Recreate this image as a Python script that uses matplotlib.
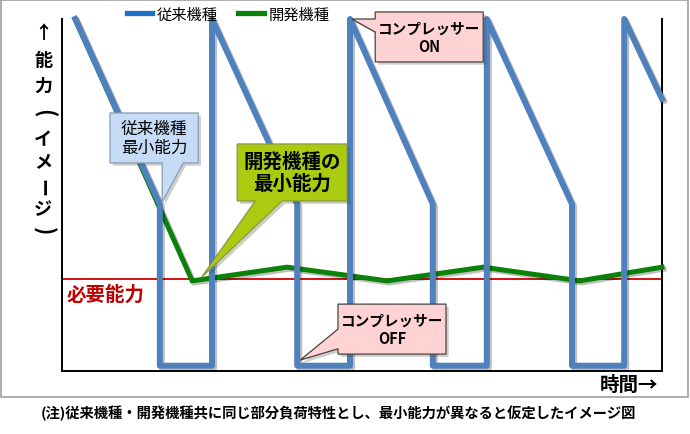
import matplotlib
matplotlib.use("Agg")
import matplotlib.pyplot as plt
import matplotlib.patheffects as pe
from matplotlib.patches import Polygon, Rectangle
from matplotlib.lines import Line2D

plt.rcParams['font.family'] = ['Noto Sans CJK JP', 'DejaVu Sans']

# ---- data (image units: time 0-100, capacity 0-100) ----
blue_x = [2.2, 16.3, 16.3, 25.0, 25.0, 39.2, 39.2, 48.0, 48.0, 61.8, 61.8,
          70.8, 70.8, 85.0, 85.0, 93.7, 93.7, 100]
blue_y = [100, 47.4, 1.5, 1.5, 100, 47.4, 1.5, 1.5, 100, 47.4, 1.5,
          1.5, 100, 47.4, 1.5, 1.5, 100, 77.3]
green_x = [2.2, 21.7, 37.5, 54.2, 70.2, 86.3, 100]
green_y = [100, 25.6, 29.5, 25.6, 29.5, 25.6, 29.5]
need_y = 26.1

series_names = ['従来機種', '開発機種']
ylabel_chars = ['↑', '能', '力', '(', 'イ', 'メ', 'ー', 'ジ', ')']
caption = '(注)従来機種・開発機種共に同じ部分負荷特性とし、最小能力が異なると仮定したイメージ図'

fig = plt.figure(figsize=(6.9, 4.35), dpi=100)
ax = fig.add_axes([62/690, 63/435, 600/690, 352/435])
ax.set_xlim(0, 100)
ax.set_ylim(0, 100)

shadow = [pe.SimpleLineShadow(offset=(1.5, -1.5), alpha=0.25), pe.Normal()]
ax.axhline(need_y, color='#d00000', lw=1.3, zorder=2)
ax.plot(green_x, green_y, color='#0a820a', lw=3.6, zorder=3,
        solid_joinstyle='miter', path_effects=shadow, clip_on=False)
ax.plot(blue_x, blue_y, color='#4f81bd', lw=4.3, zorder=4,
        solid_joinstyle='round', path_effects=shadow, clip_on=False)

ax.text(0.8, 21.9, '必要能力', color='#c00000', fontsize=14,
        fontweight='bold', va='center', ha='left')

for s in ['left', 'bottom', 'right']:
    ax.spines[s].set_linewidth(1.4)
    ax.spines[s].set_color('black')
ax.spines['top'].set_visible(False)
ax.set_xticks([])
ax.set_yticks([])


# ---- callouts ----
def callout(pts, text, face, edge, size, weight, tx, ty):
    poly = Polygon(pts, closed=True, facecolor=face, edgecolor=edge,
                   lw=0.9, zorder=6, clip_on=False,
                   path_effects=[pe.SimplePatchShadow(offset=(2, -2), alpha=0.25),
                                 pe.Normal()])
    ax.add_patch(poly)
    ax.text(tx, ty, text, ha='center', va='center', fontsize=size,
            fontweight=weight, zorder=7, linespacing=1.15)


# 従来機種 最小能力 (pointer down from bottom edge)
callout([(8.0, 73.3), (22.7, 73.3), (22.7, 59.1), (20.2, 59.1), (16.7, 48.0),
         (16.7, 59.1), (8.0, 59.1)],
        '従来機種\n最小能力', '#c6dcf6', '#8a9bb0', 12, 'normal', 15.35, 66.2)
# 開発機種の最小能力
callout([(29.2, 64.5), (47.5, 64.5), (47.5, 48.3), (36.7, 48.3), (23.3, 26.7),
         (32.2, 48.3), (29.2, 48.3)],
        '開発機種の\n最小能力', '#aacb10', '#8a9a40', 14, 'bold', 38.35, 56.4)
# コンプレッサーON
callout([(52.2, 102.0), (70.2, 102.0), (70.2, 87.8), (52.2, 87.8), (52.2, 96.3),
         (48.3, 100.0), (52.2, 100.0)],
        'コンプレッサー\nON', '#ffd3d3', '#444444', 10.5, 'bold', 61.2, 94.9)
# コンプレッサーOFF
callout([(46.0, 19.0), (64.0, 19.0), (64.0, 4.8), (46.0, 4.8), (46.0, 6.3),
         (39.7, 3.1), (46.0, 11.9)],
        'コンプレッサー\nOFF', '#ffd3d3', '#444444', 10.5, 'bold', 55.0, 11.9)

# ---- legend ----
handles = [Line2D([], [], color='#1f6fc4', lw=3.8),
           Line2D([], [], color='#0a820a', lw=3.8)]
fig.legend(handles, series_names, loc='center', ncol=2, frameon=False,
           bbox_to_anchor=(228/690, 1 - 15/435), fontsize=11,
           handlelength=1.7, handletextpad=0.3, columnspacing=1.3)

# ---- vertical y label (one character per line, brackets turned) ----
ys = [33, 60, 86, 113, 140, 163, 188, 210, 231]
for ch, yp in zip(ylabel_chars, ys):
    rot = -90 if ch in '()ー' else 0
    size = 16 if ch in '()' else 13
    fig.text(43/690, 1 - yp/435, ch, ha='center', va='center', fontsize=size,
             fontweight='bold', rotation=rot, rotation_mode='anchor')

fig.text(658/690, 1 - 385/435, '時間→', ha='right', va='center',
         fontsize=14, fontweight='bold')
fig.text(338/690, 1 - 413/435, caption, ha='center', va='center',
         fontsize=10.3, fontweight='bold')

# outer frame
fig.patches.append(Rectangle((1/690, 37/435), 687/690, 397/435,
                             transform=fig.transFigure, fill=False,
                             edgecolor='#a0a0a0', lw=1.2))

fig.savefig('out.png', dpi=100)
